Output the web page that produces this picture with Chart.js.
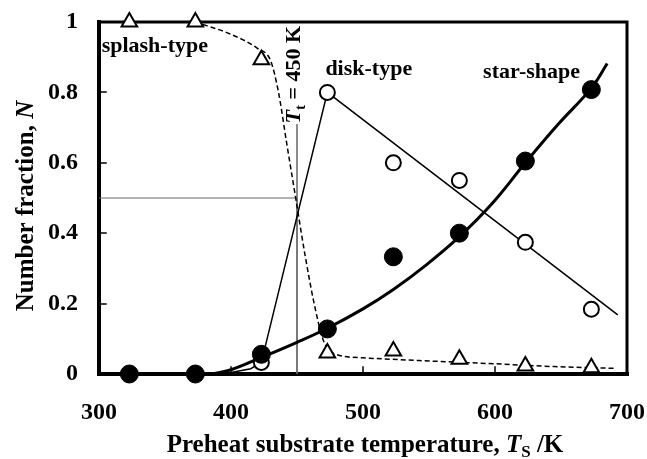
<!DOCTYPE html>
<html><head><meta charset="utf-8">
<script src="https://cdn.jsdelivr.net/npm/chart.js@4.4.0/dist/chart.umd.min.js"></script>
<style>html,body{margin:0;padding:0;background:#fff;} #wrap{width:647px;height:459px;position:relative;}</style>
</head><body><div id="wrap"><canvas id="c"></canvas></div>
<script>
// ---- data ----
const temps = [323, 373, 423, 473, 523, 573, 623, 673];
const splashN = [1, 1, 0.893, 0.06, 0.065, 0.042, 0.023, 0.018];
const diskN = [0, 0, 0.033, 0.80, 0.60, 0.55, 0.374, 0.184];
const starN = [0, 0, 0.056, 0.128, 0.333, 0.40, 0.605, 0.808];

const splashCurveT = [373, 400, 420, 430, 436, 442, 449, 456, 463, 470, 478, 500, 550, 600, 645, 691];
const splashCurveN = [1.0, 0.965, 0.925, 0.89, 0.80, 0.66, 0.50, 0.34, 0.20, 0.095, 0.058, 0.046, 0.037, 0.029, 0.021, 0.016];
const diskLineT = [323, 373, 400, 415, 423, 473, 693];
const diskLineN = [0, 0, 0.004, 0.015, 0.033, 0.80, 0.168];
const starCurveT = [385, 400, 423, 450, 473, 500, 523, 548, 573, 598, 623, 648, 673, 685];
const starCurveN = [0.0, 0.012, 0.047, 0.09, 0.13, 0.185, 0.24, 0.31, 0.39, 0.485, 0.60, 0.71, 0.812, 0.882];

const refLineT = [300, 450, 450, 450];
const refLineN = [0.5, 0.5, 0.71, 0];

const xTickValues = [300, 400, 500, 600, 700];
const yTickValues = [0, 0.2, 0.4, 0.6, 0.8, 1];

const labels = [
  {text: 'splash-type', t: 302, n: 0.915},
  {text: 'disk-type', t: 471.5, n: 0.849},
  {text: 'star-shape', t: 591, n: 0.840}
];
const transitionLabel = {t: 452, n: 0.712, sym: 'T', sub: 't', rest: ' = 450 K'};

// ---- helpers ----
const pts = (xs, ys) => xs.map((x, i) => ({x: x, y: ys[i]}));
const SERIF = '"Liberation Serif", "Times New Roman", serif';

const framePlugin = {
  id: 'frame',
  beforeDatasetsDraw(chart) {
    const {ctx, chartArea: a, scales: {x, y}} = chart;
    ctx.save();
    ctx.strokeStyle = '#000';
    ctx.lineCap = 'square';
    // inward ticks
    ctx.lineWidth = 1.5;
    ctx.beginPath();
    yTickValues.slice(1, -1).forEach(v => { const py = Math.round(y.getPixelForValue(v)); ctx.moveTo(a.left, py); ctx.lineTo(a.left + 7, py); });
    xTickValues.slice(1, -1).forEach(v => { const px = Math.round(x.getPixelForValue(v)); ctx.moveTo(px, a.bottom); ctx.lineTo(px, a.bottom - 7); });
    ctx.stroke();
    // frame
    ctx.lineWidth = 3;
    ctx.beginPath(); ctx.moveTo(a.left, a.top); ctx.lineTo(a.right, a.top); ctx.lineTo(a.right, a.bottom); ctx.stroke();
    ctx.lineWidth = 4;
    ctx.beginPath(); ctx.moveTo(a.left, a.top); ctx.lineTo(a.left, a.bottom); ctx.lineTo(a.right, a.bottom); ctx.stroke();
    ctx.restore();
  },
  afterDatasetsDraw(chart) {
    const {ctx, chartArea: a, scales: {x, y}} = chart;
    ctx.save();
    ctx.fillStyle = '#000';
    ctx.textBaseline = 'alphabetic';
    // series labels
    ctx.font = 'bold 22px ' + SERIF;
    ctx.textAlign = 'left';
    labels.forEach(l => ctx.fillText(l.text, x.getPixelForValue(l.t), y.getPixelForValue(l.n)));
    // rotated transition label
    ctx.save();
    ctx.translate(x.getPixelForValue(transitionLabel.t), y.getPixelForValue(transitionLabel.n));
    ctx.rotate(-Math.PI / 2);
    let cx = 0;
    ctx.font = 'italic bold 22px ' + SERIF; ctx.fillText(transitionLabel.sym, cx, 0); cx += ctx.measureText(transitionLabel.sym).width;
    ctx.font = 'bold 15px ' + SERIF; ctx.fillText(transitionLabel.sub, cx, 5); cx += ctx.measureText(transitionLabel.sub).width;
    ctx.font = 'bold 22px ' + SERIF; ctx.fillText(transitionLabel.rest, cx, 0);
    ctx.restore();

    // x axis title with italic symbol and subscript
    const parts = [
      {t: 'Preheat substrate temperature, ', f: 'bold 25px ' + SERIF, dy: 0},
      {t: 'T', f: 'italic bold 25px ' + SERIF, dy: 0},
      {t: 'S', f: 'bold 17px ' + SERIF, dy: 5},
      {t: ' /K', f: 'bold 25px ' + SERIF, dy: 0}
    ];
    let w = 0; parts.forEach(p => { ctx.font = p.f; p.w = ctx.measureText(p.t).width; w += p.w; });
    let px = (a.left + a.right) / 2 - w / 2 + 2;
    const by = 452;
    parts.forEach(p => { ctx.font = p.f; ctx.fillText(p.t, px, by + p.dy); px += p.w; });

    // y axis title
    const yparts = [
      {t: 'Number fraction, ', f: 'bold 25px ' + SERIF},
      {t: 'N', f: 'italic bold 25px ' + SERIF}
    ];
    let yw = 0; yparts.forEach(p => { ctx.font = p.f; p.w = ctx.measureText(p.t).width; yw += p.w; });
    ctx.save();
    ctx.translate(33, 206);
    ctx.rotate(-Math.PI / 2);
    let qx = -yw / 2;
    yparts.forEach(p => { ctx.font = p.f; ctx.fillText(p.t, qx, 0); qx += p.w; });
    ctx.restore();
    ctx.restore();
  }
};

const hiddenGrid = (len) => ({display: true, drawOnChartArea: false, drawTicks: true, tickLength: len, tickColor: 'rgba(0,0,0,0)', color: 'rgba(0,0,0,0)'});

new Chart(document.getElementById('c'), {
  type: 'scatter',
  data: {
    datasets: [
      {label: 'star-shape', data: pts(temps, starN), pointStyle: 'circle', pointRadius: 9, pointBackgroundColor: '#000', pointBorderColor: '#000', pointBorderWidth: 1, order: 0, clip: false},
      {label: 'disk-type', data: pts(temps, diskN), pointStyle: 'circle', pointRadius: 7.5, pointBackgroundColor: '#fff', pointBorderColor: '#000', pointBorderWidth: 2, order: 1, clip: false},
      {label: 'splash-type', data: pts(temps, splashN), pointStyle: 'triangle', pointRadius: 9, pointBackgroundColor: '#fff', pointBorderColor: '#000', pointBorderWidth: 2, order: 2, clip: false},
      {label: 'star curve', data: pts(starCurveT, starCurveN), showLine: true, pointRadius: 0, borderColor: '#000', borderWidth: 3, tension: 0.4, order: 3, clip: false},
      {label: 'disk line', data: pts(diskLineT, diskLineN), showLine: true, pointRadius: 0, borderColor: '#000', borderWidth: 1.5, tension: 0, order: 4, clip: false},
      {label: 'splash curve', data: pts(splashCurveT, splashCurveN), showLine: true, pointRadius: 0, borderColor: '#000', borderWidth: 1.5, borderDash: [5, 3], cubicInterpolationMode: 'monotone', order: 5, clip: false},
      {label: 'Tt', data: pts(refLineT, refLineN), showLine: true, pointRadius: 0, borderColor: '#666', borderWidth: 1, tension: 0, order: 6, clip: false}
    ]
  },
  options: {
    responsive: true,
    maintainAspectRatio: false,
    animation: false,
    events: [],
    layout: {padding: {top: 22, right: 20, left: 0, bottom: 0}},
    plugins: {legend: {display: false}, tooltip: {enabled: false}},
    scales: {
      x: {
        type: 'linear', min: 300, max: 700,
        afterBuildTicks: s => { s.ticks = xTickValues.map(v => ({value: v})); },
        afterFit: s => { s.height = 85; },
        grid: hiddenGrid(24),
        border: {display: false},
        ticks: {padding: 0, color: '#000', font: {family: SERIF, size: 24, weight: 'bold'}, maxRotation: 0, callback: v => String(v)}
      },
      y: {
        type: 'linear', min: 0, max: 1,
        afterBuildTicks: s => { s.ticks = yTickValues.map(v => ({value: v})); },
        afterFit: s => { s.width = 99; },
        grid: hiddenGrid(21),
        border: {display: false},
        ticks: {padding: 0, color: '#000', font: {family: SERIF, size: 24, weight: 'bold'}, callback: v => String(v)}
      }
    }
  },
  plugins: [framePlugin]
});
</script>
</body></html>
